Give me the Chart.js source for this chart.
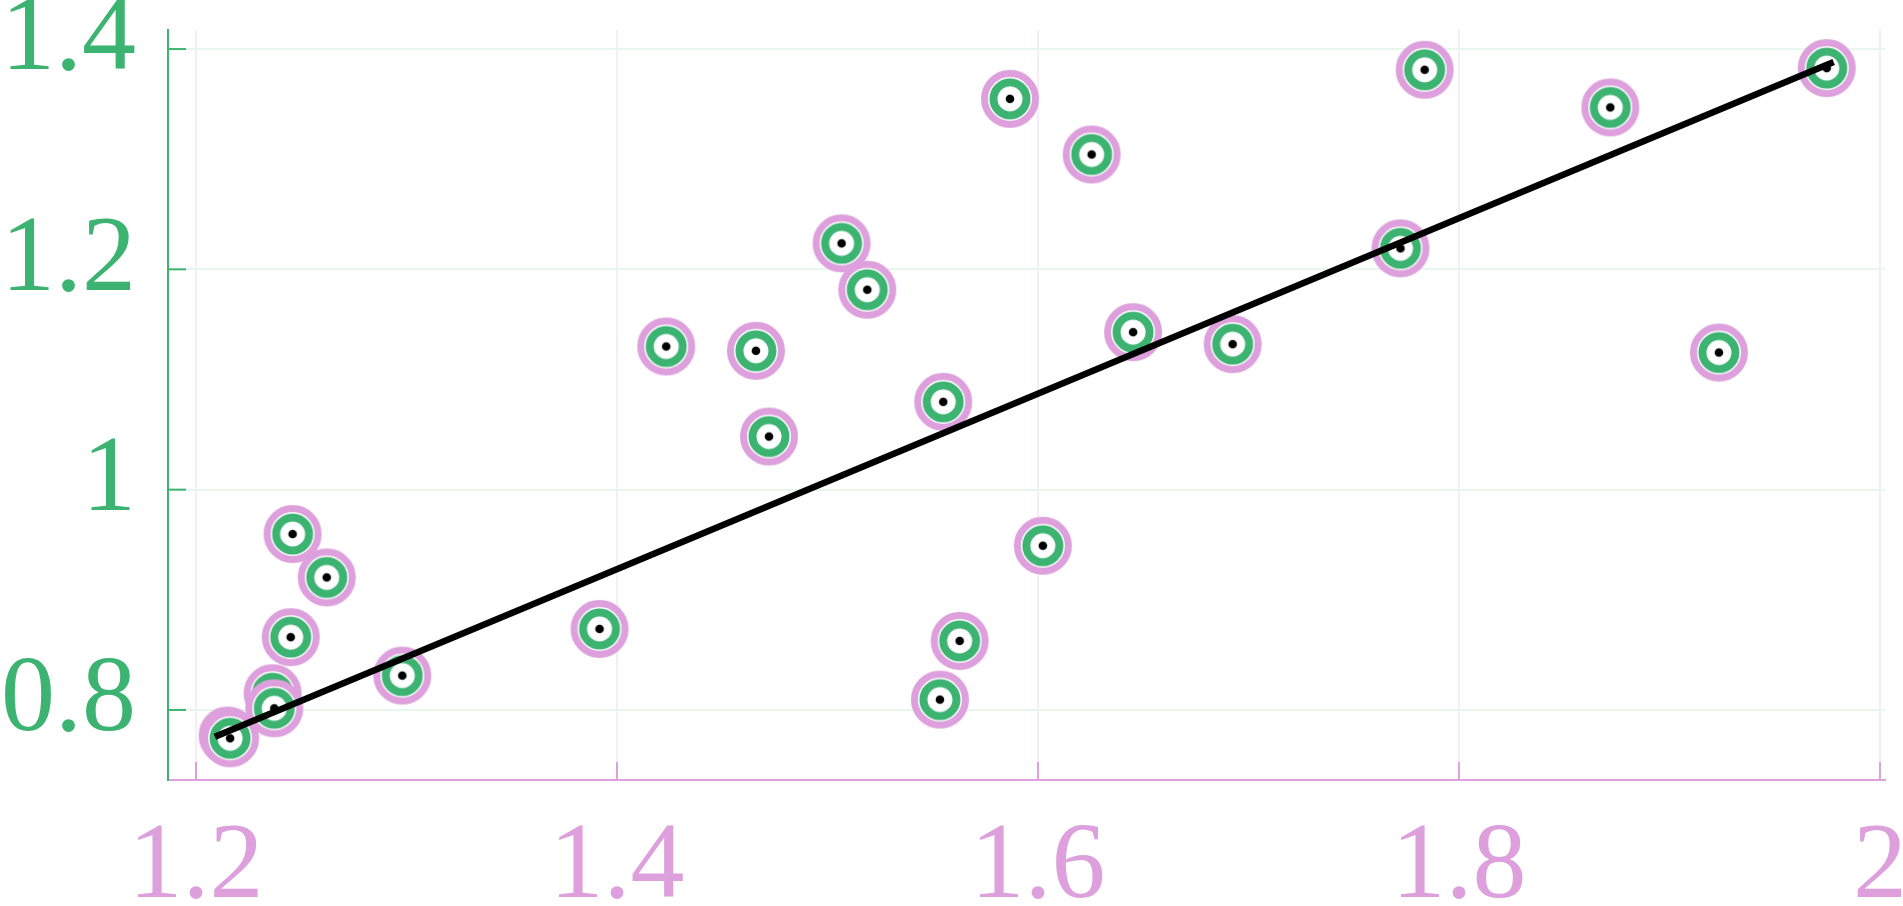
<!DOCTYPE html>
<html lang="en">
<head>
<meta charset="UTF-8">
<title>Scatter with fit</title>
<style>
  body { margin: 0; background: #ffffff; }
  #wrap { width: 1903px; height: 906px; }
</style>
</head>
<body>
<div id="wrap">
  <canvas id="myChart" width="1903" height="906"></canvas>
</div>

<script src="https://cdn.jsdelivr.net/npm/chart.js"></script>
<script>
// data
const xValues = [1.2150, 1.2162, 1.2364, 1.2372, 1.2450, 1.2459, 1.2621, 1.2980, 1.3917, 1.4234,
                 1.4660, 1.4722, 1.5067, 1.5189, 1.5550, 1.5534, 1.5628, 1.5867, 1.6023, 1.6255,
                 1.6452, 1.6925, 1.7722, 1.7837, 1.8719, 1.9235, 1.9747];
const yValues = [0.7768, 0.7743, 0.8152, 0.8015, 0.8661, 0.9597, 0.9203, 0.8312, 0.8736, 1.1300,
                 1.1261, 1.0482, 1.2236, 1.1815, 1.0797, 0.8094, 0.8627, 1.3548, 0.9491, 1.3043,
                 1.1430, 1.1321, 1.2191, 1.3812, 1.3470, 1.1245, 1.3827];
const fitX = [1.209, 1.978];
const fitY = [0.7757, 1.3882];
const xTicks = [1.2, 1.4, 1.6, 1.8, 2];
const yTicks = [0.8, 1, 1.2, 1.4];

const green = '#3cb371';
const plum = '#dda0dd';

// one marker = plum ring, white gap, green ring, white centre, black dot
const marker = document.createElement('canvas');
marker.width = 62;
marker.height = 62;
const m = marker.getContext('2d');
m.fillStyle = '#ffffff';
m.strokeStyle = plum;
m.lineWidth = 7;
m.beginPath(); m.arc(31, 31, 25.5, 0, Math.PI * 2); m.fill(); m.stroke();
m.strokeStyle = green;
m.lineWidth = 8;
m.beginPath(); m.arc(31, 31, 16.5, 0, Math.PI * 2); m.fill(); m.stroke();
m.fillStyle = '#000000';
m.beginPath(); m.arc(31, 31, 4.3, 0, Math.PI * 2); m.fill();

const points = xValues.map((x, i) => ({ x: x, y: yValues[i] }));
const fitLine = fitX.map((x, i) => ({ x: x, y: fitY[i] }));

// short tick marks pointing into the plot
const innerTicks = {
  id: 'innerTicks',
  beforeDatasetsDraw(chart) {
    const c = chart.ctx, a = chart.chartArea;
    c.save();
    c.lineWidth = 2;
    c.strokeStyle = green;
    yTicks.forEach(v => {
      const py = chart.scales.y.getPixelForValue(v);
      c.beginPath(); c.moveTo(a.left, py); c.lineTo(a.left + 18, py); c.stroke();
    });
    c.strokeStyle = plum;
    xTicks.forEach(v => {
      const px = chart.scales.x.getPixelForValue(v);
      c.beginPath(); c.moveTo(px, a.bottom); c.lineTo(px, a.bottom - 18); c.stroke();
    });
    c.restore();
  }
};

function fmt(v) {
  return String(Number(v.toFixed(2)));
}

const ctx = document.getElementById('myChart');

new Chart(ctx, {
  type: 'scatter',
  data: {
    datasets: [
      {
        label: 'fit',
        data: fitLine,
        showLine: true,
        borderColor: '#000000',
        borderWidth: 6.5,
        pointRadius: 0,
        order: 0
      },
      {
        label: 'data',
        data: points,
        pointStyle: marker,
        pointRadius: 29,
        pointBorderWidth: 0,
        order: 1
      }
    ]
  },
  options: {
    responsive: false,
    animation: false,
    layout: { autoPadding: false, padding: { top: 30, right: 18, left: 0, bottom: 0 } },
    plugins: { legend: { display: false }, tooltip: { enabled: false } },
    scales: {
      x: {
        type: 'linear',
        min: 1.1867,
        max: 2.0024,
        afterBuildTicks: s => { s.ticks = xTicks.map(v => ({ value: v })); },
        afterFit: s => { s.height = 126; s.paddingLeft = 0; s.paddingRight = 0; },
        border: { color: plum, width: 2 },
        grid: { color: '#f7ecf7', lineWidth: 2, drawTicks: false },
        ticks: {
          color: plum,
          padding: 24,
          maxRotation: 0,
          font: { family: 'Liberation Serif', size: 108 },
          callback: v => fmt(v)
        }
      },
      y: {
        type: 'linear',
        min: 0.7364,
        max: 1.4173,
        afterBuildTicks: s => { s.ticks = yTicks.map(v => ({ value: v })); },
        afterFit: s => { s.width = 168; s.paddingTop = 0; s.paddingBottom = 0; },
        border: { color: green, width: 2 },
        grid: { color: '#e8f6ee', lineWidth: 2, drawTicks: false },
        ticks: {
          color: green,
          padding: 32,
          labelOffset: -8,
          font: { family: 'Liberation Serif', size: 108 },
          callback: v => fmt(v)
        }
      }
    }
  },
  plugins: [innerTicks]
});
</script>
</body>
</html>
